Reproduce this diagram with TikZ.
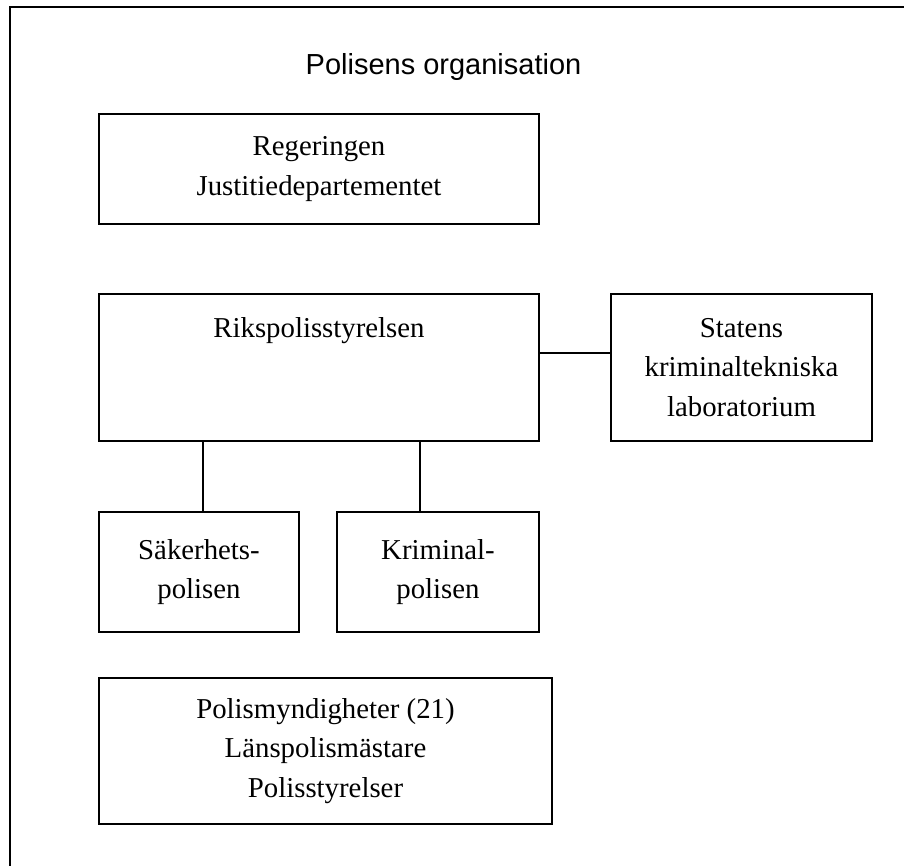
\documentclass[tikz,border=0pt]{standalone}
\usepackage{fontspec}
\setmainfont{Liberation Serif}
\newfontfamily\arialfont{Liberation Sans}
\begin{document}
\begin{tikzpicture}[x=1pt,y=-1pt,
  orgbox/.style={draw=black, line width=1.8pt, inner sep=0pt, align=center,
    font=\fontsize{28.8}{39.5}\selectfont},
  conn/.style={draw=black, line width=1.8pt},
  frameline/.style={draw=black, line width=2pt}]
\fill[white] (0,0) rectangle (904,866);
\useasboundingbox (0,0) rectangle (904,866);
% outer frame (open at right and bottom)
\coordinate (ftr) at (904,7);
\coordinate (ftl) at (10,7);
\coordinate (fbl) at (10,866);
\draw[frameline] (ftr) -- (ftl) -- (fbl);
% title
\node[anchor=base, font=\arialfont\fontsize{29}{34}\selectfont] (title) at (443.5,75) {Polisens organisation};
% boxes
\node[orgbox, minimum width=440pt, minimum height=110pt] (reg) at (319,169) {Regeringen\\Justitiedepartementet};
\node[orgbox, minimum width=440pt, minimum height=147pt] (riks) at (319,367.5) {};
\node[anchor=base, font=\fontsize{28.8}{39.5}\selectfont] (rikstext) at (319,337) {Rikspolisstyrelsen};
\node[orgbox, minimum width=261pt, minimum height=147pt] (stat) at (741.5,367.5) {Statens\\kriminaltekniska\\laboratorium};
\node[orgbox, minimum width=200pt, minimum height=120pt] (saek) at (199,572) {Säkerhets-\\polisen};
\node[orgbox, minimum width=202pt, minimum height=120pt] (krim) at (438,572) {Kriminal-\\polisen};
\node[orgbox, minimum width=453pt, minimum height=146pt] (poli) at (325.5,751) {Polismyndigheter (21)\\Länspolismästare\\Polisstyrelser};
% connectors
\draw[conn] ([yshift=14.5pt]riks.east) -- ([yshift=14.5pt]stat.west);
\coordinate (c1) at (203,480);
\coordinate (c2) at (420,480);
\draw[conn] (riks.south -| c1) -- (saek.north -| c1);
\draw[conn] (riks.south -| c2) -- (krim.north -| c2);
\end{tikzpicture}
\end{document}
